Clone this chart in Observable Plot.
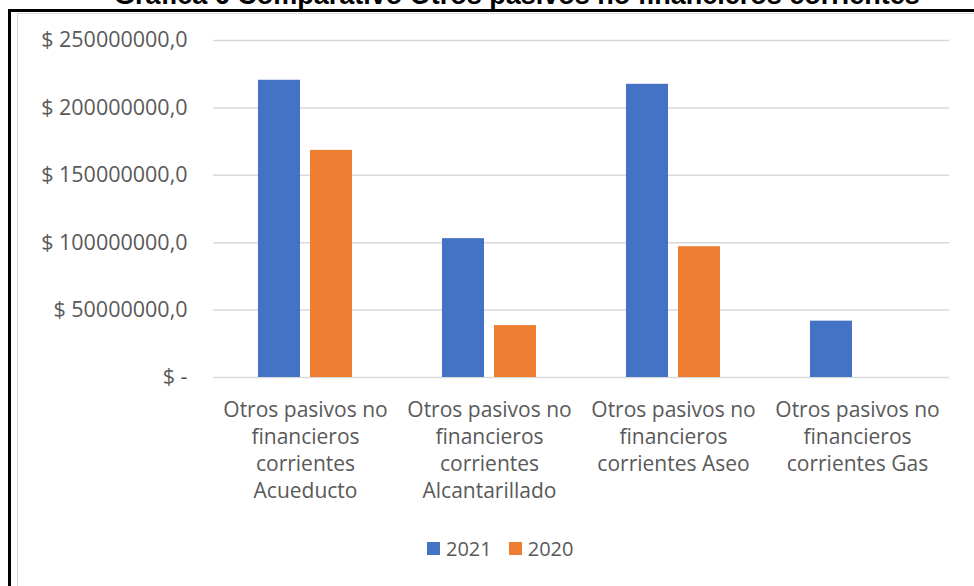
<!DOCTYPE html>
<html>
<head>
<meta charset="utf-8">
<script src="https://cdn.jsdelivr.net/npm/d3@7"></script>
<script src="https://cdn.jsdelivr.net/npm/@observablehq/plot@0.6"></script>
<style>
  html, body { margin: 0; padding: 0; background: #fff; }
  body { width: 974px; height: 586px; overflow: hidden; position: relative; font-family: "Open Sans", sans-serif; }
  #title { position: absolute; left: 30px; width: 974px; top: -18px; text-align: center; font: bold 27px "Liberation Sans", Arial, sans-serif; line-height: 27px; color: #000; white-space: nowrap; }
  .blk { position: absolute; background: #000; }
  .gry { position: absolute; background: #d9d9d9; }
  #chart { position: absolute; left: 0; top: 0; }
  #legend { position: absolute; top: 535px; left: 427px; display: flex; align-items: center; font-size: 20px; color: #595959; }
  #legend .sw { width: 13px; height: 13px; display: inline-block; margin-right: 6px; }
  #legend .item { display: flex; align-items: center; margin-right: 17px; }
</style>
</head>
<body>
<div id="title">Gráfica 6 Comparativo Otros pasivos no financieros corrientes</div>
<div class="blk" style="left:8px; top:9px; right:0; height:3px;"></div>
<div class="blk" style="left:8px; top:9px; width:3px; bottom:0;"></div>
<div class="gry" style="left:17px; top:13px; right:0; height:1px;"></div>
<div class="gry" style="left:17px; top:13px; width:1px; bottom:0;"></div>
<div id="chart"></div>
<div id="legend"></div>
<script>
const categories = [
  "Otros pasivos no financieros corrientes Acueducto",
  "Otros pasivos no financieros corrientes Alcantarillado",
  "Otros pasivos no financieros corrientes Aseo",
  "Otros pasivos no financieros corrientes Gas"
];
const categoryLabels = [
  "Otros pasivos no\nfinancieros\ncorrientes\nAcueducto",
  "Otros pasivos no\nfinancieros\ncorrientes\nAlcantarillado",
  "Otros pasivos no\nfinancieros\ncorrientes Aseo",
  "Otros pasivos no\nfinancieros\ncorrientes Gas"
];
const years = ["2021", "2020"];
const values2021 = [220500000, 103000000, 217500000, 41800000];
const values2020 = [168500000, 38500000, 97000000, 0];
const yTicks = [0, 50000000, 100000000, 150000000, 200000000, 250000000];
const colors = ["#4472c4", "#ed7d31"];

const data = categories.flatMap((c, i) => [
  {cat: c, year: "2021", value: values2021[i]},
  {cat: c, year: "2020", value: values2020[i]}
]);

const fmt = d => d === 0 ? "$ -" : "$ " + d + ",0";

const chart = Plot.plot({
  width: 974,
  height: 515,
  marginLeft: 213,
  marginRight: 25,
  marginTop: 40,
  marginBottom: 138,
  style: {fontFamily: "'Open Sans', sans-serif", fontSize: "19px", color: "#595959", background: "transparent"},
  fx: {domain: categories, padding: 0, label: null, axis: null},
  x: {domain: years, paddingInner: 0.192, paddingOuter: 0.865, axis: null},
  y: {domain: [0, 250000000], axis: null},
  color: {domain: years, range: colors},
  marks: [
    Plot.gridY(yTicks, {stroke: "#d9d9d9", strokeOpacity: 1, strokeWidth: 1.5}),
    Plot.axisY(yTicks, {tickSize: 0, tickPadding: 26, tickFormat: fmt, label: null, fontSize: 21.5, fill: "#595959"}),
    Plot.barY(data, {fx: "cat", x: "year", y: "value", fill: "year"}),
    Plot.axisFx({anchor: "bottom", tickSize: 0, tickPadding: 20, tickFormat: d => categoryLabels[categories.indexOf(d)], lineHeight: 1.29, label: null, fontSize: 21, fill: "#595959"})
  ]
});
document.getElementById("chart").appendChild(chart);

const legend = document.getElementById("legend");
years.forEach((y, i) => {
  const item = document.createElement("div");
  item.className = "item";
  const sw = document.createElement("span");
  sw.className = "sw";
  sw.style.background = colors[i];
  const t = document.createElement("span");
  t.textContent = y;
  item.appendChild(sw);
  item.appendChild(t);
  legend.appendChild(item);
});
</script>
</body>
</html>
